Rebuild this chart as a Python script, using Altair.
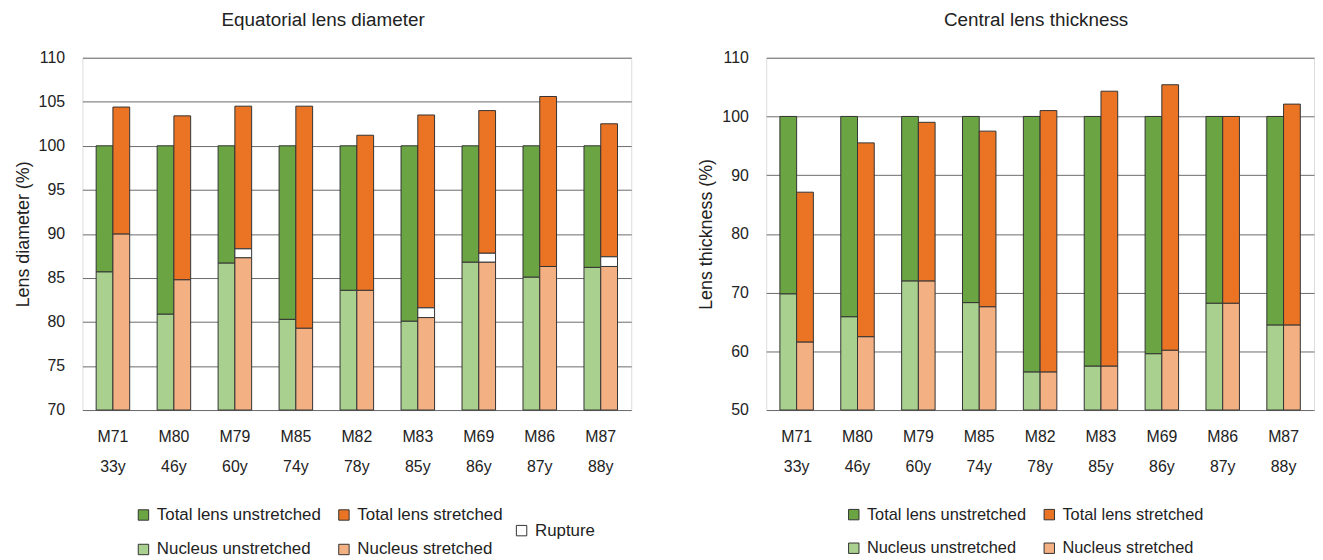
import altair as alt
import pandas as pd

FONT = "Liberation Sans"
TXT = "#222222"

ids = ["M71", "M80", "M79", "M85", "M82", "M83", "M69", "M86", "M87"]
ages = ["33y", "46y", "60y", "74y", "78y", "85y", "86y", "87y", "88y"]

# Equatorial lens diameter (%)
diam_total_unstr = [100, 100, 100, 100, 100, 100, 100, 100, 100]
diam_total_str = [104.4, 103.4, 104.5, 104.5, 101.2, 103.5, 104.0, 105.6, 102.5]
diam_nuc_unstr = [85.7, 80.9, 86.7, 80.3, 83.6, 80.1, 86.8, 85.1, 86.2]
diam_nuc_str = [90.0, 84.8, 87.3, 79.3, 83.6, 80.5, 86.8, 86.3, 86.3]
diam_rupture_top = [None, None, 88.3, None, None, 81.6, 87.8, None, 87.4]
diam_domain = [70, 110]
diam_ticks = [70, 75, 80, 85, 90, 95, 100, 105, 110]

# Central lens thickness (%)
thick_total_unstr = [100, 100, 100, 100, 100, 100, 100, 100, 100]
thick_total_str = [87.1, 95.5, 99.0, 97.5, 101.0, 104.3, 105.4, 100.0, 102.1]
thick_nuc_unstr = [69.8, 65.9, 72.0, 68.3, 56.5, 57.5, 59.6, 68.2, 64.5]
thick_nuc_str = [61.6, 62.5, 72.0, 67.6, 56.5, 57.5, 60.2, 68.2, 64.5]
thick_rupture_top = [None, None, None, None, None, None, None, None, None]
thick_domain = [50, 110]
thick_ticks = [50, 60, 70, 80, 90, 100, 110]

# legend fills column by column: col 1 = unstretched, col 2 = stretched
series_names = ["Total lens unstretched", "Nucleus unstretched",
                "Total lens stretched", "Nucleus stretched"]
series_colors = ["#6AA443", "#A9D08E", "#EB7424", "#F3B083"]


def build_rows(tot_un, tot_st, nuc_un, nuc_st, rup_top, domain):
    main, rup = [], []
    for i in range(len(ids)):
        cat = ids[i] + "\n" + ages[i]
        base = domain[0]
        main.append(dict(cat=cat, state="unstretched", series="Nucleus unstretched", y0=base, y1=nuc_un[i]))
        main.append(dict(cat=cat, state="unstretched", series="Total lens unstretched", y0=nuc_un[i], y1=tot_un[i]))
        main.append(dict(cat=cat, state="stretched", series="Nucleus stretched", y0=base, y1=nuc_st[i]))
        mid = rup_top[i] if rup_top[i] is not None else nuc_st[i]
        main.append(dict(cat=cat, state="stretched", series="Total lens stretched", y0=mid, y1=tot_st[i]))
        if rup_top[i] is not None:
            rup.append(dict(cat=cat, state="stretched", series="Rupture", y0=nuc_st[i], y1=rup_top[i]))
    return pd.DataFrame(main), pd.DataFrame(rup)


cats = [a + "\n" + b for a, b in zip(ids, ages)]


def panel(tot_un, tot_st, nuc_un, nuc_st, rup_top, domain, ticks, title, ytitle, width,
          title_dx, legend_x, legend_font, col_pad, show_rupture):
    df_main, df_rup = build_rows(tot_un, tot_st, nuc_un, nuc_st, rup_top, domain)
    x = alt.X("cat:N", sort=cats,
              scale=alt.Scale(domain=cats, paddingInner=0.45, paddingOuter=0.225),
              axis=alt.Axis(title=None, labelAngle=0, domain=False, ticks=False,
                            labelExpr="split(datum.label, '\\n')",
                            labelFontSize=16, labelFont=FONT, labelColor=TXT,
                            labelPadding=19, labelLineHeight=30))
    xo = alt.XOffset("state:N", scale=alt.Scale(domain=["unstretched", "stretched"],
                                                 paddingInner=0, paddingOuter=0))
    y = alt.Y("y1:Q", scale=alt.Scale(domain=domain, nice=False, zero=False),
              axis=alt.Axis(title=ytitle, values=ticks, domain=False, ticks=False,
                            grid=True, gridColor="#6b6b6b", gridWidth=1,
                            labelFontSize=16, labelFont=FONT, labelColor=TXT, labelPadding=18,
                            titleFontSize=18, titleFont=FONT, titleColor=TXT,
                            titleFontWeight="normal", titlePadding=6))
    legend_common = dict(orient="none", title=None, labelFontSize=legend_font, labelFont=FONT,
                         labelColor=TXT, labelLimit=0, symbolType="square", symbolSize=110,
                         symbolStrokeColor="#333333", symbolStrokeWidth=1,
                         symbolOpacity=1, labelOffset=5, padding=0)
    main = alt.Chart(df_main).mark_bar(stroke="#333333", strokeWidth=1, opacity=1).encode(
        x=x, xOffset=xo, y=y, y2="y0:Q",
        fill=alt.Fill("series:N",
                      scale=alt.Scale(domain=series_names, range=series_colors),
                      legend=alt.Legend(columns=2, legendX=legend_x, legendY=452,
                                        columnPadding=col_pad, rowPadding=17, **legend_common)))
    layers = [main]
    if show_rupture:
        rup = alt.Chart(df_rup).mark_bar(stroke="#333333", strokeWidth=1, opacity=1).encode(
            x=x, xOffset=xo, y=y, y2="y0:Q",
            fill=alt.Fill("series:N", scale=alt.Scale(domain=["Rupture"], range=["#ffffff"]),
                          legend=alt.Legend(legendX=434, legendY=468, **legend_common)))
        layers.append(rup)
    ch = alt.layer(*layers).properties(
        width=width, height=355,
        title=alt.TitleParams(title, fontSize=19, font=FONT, fontWeight="normal",
                              color=TXT, anchor="middle", dx=title_dx, offset=20))
    if show_rupture:
        ch = ch.resolve_scale(fill="independent").resolve_legend(fill="independent")
    return ch


left = panel(diam_total_unstr, diam_total_str, diam_nuc_unstr, diam_nuc_str, diam_rupture_top,
             diam_domain, diam_ticks, "Equatorial lens diameter", "Lens diameter (%)",
             553, -34, 53, 17, 14, True)
right = panel(thick_total_unstr, thick_total_str, thick_nuc_unstr, thick_nuc_str, thick_rupture_top,
              thick_domain, thick_ticks, "Central lens thickness", "Lens thickness (%)",
              552, -4, 80, 16.5, 14, False)

chart = alt.hconcat(left, right, spacing=65).resolve_scale(
    x="independent", y="independent", fill="independent", xOffset="independent"
).resolve_legend(fill="independent").properties(
    padding={"left": 5, "top": 0, "right": 0, "bottom": 0}
).configure_view(stroke="#333333", strokeWidth=1).configure(background="white")

chart.save("out.html", embed_options={"renderer": "svg", "actions": False})
